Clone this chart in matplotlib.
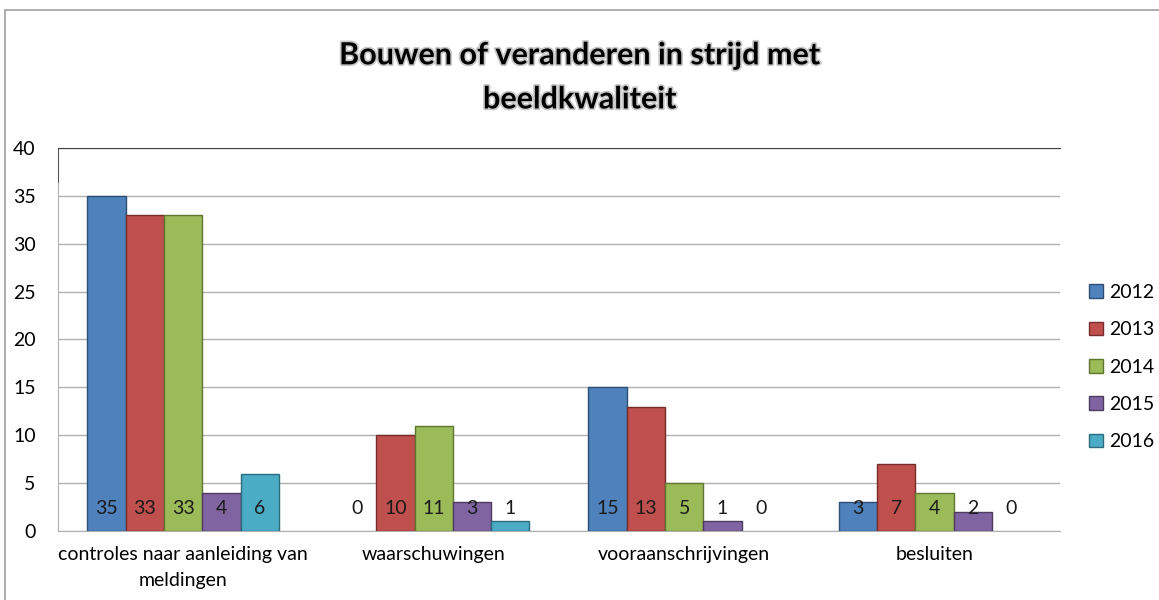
import matplotlib.pyplot as plt
import matplotlib.patheffects as pe
from matplotlib.patches import Rectangle
import numpy as np

# data
categories = ['controles naar aanleiding van\nmeldingen', 'waarschuwingen',
              'vooraanschrijvingen', 'besluiten']
years = ['2012', '2013', '2014', '2015', '2016']
values = {
    '2012': [35, 0, 15, 3],
    '2013': [33, 10, 13, 7],
    '2014': [33, 11, 5, 4],
    '2015': [4, 3, 1, 2],
    '2016': [6, 1, 0, 0],
}
colors = ['#4F81BD', '#C0504D', '#9BBB59', '#8064A2', '#4BACC6']
edges = ['#2c4d75', '#772c2a', '#5f7530', '#4d3b62', '#2c6b7b']

plt.rcParams['font.family'] = ['Lato', 'DejaVu Sans']

fig = plt.figure(figsize=(11.59, 6), dpi=100)
ax = fig.add_axes([0.050, 0.115, 0.8645, 0.6384])

# outer chart border
fig.patches.append(Rectangle((0.0045, -0.05), 1.2, 1.033, transform=fig.transFigure,
                             fill=False, edgecolor='#a0a0a0', linewidth=1.2))

x = np.arange(len(categories))
w = 0.153
for i, y in enumerate(years):
    pos = x + (i - 2) * w
    ec = [edges[i] if v > 0 else 'none' for v in values[y]]
    ax.bar(pos, values[y], width=w, color=colors[i], edgecolor=ec,
           linewidth=1.0, zorder=3)
    for p, v in zip(pos, values[y]):
        ax.text(p, 2.3, str(v), ha='center', va='center', fontsize=14,
                color='#1a1a1a', zorder=4)

ax.set_xlim(-0.5, 3.5)
ax.set_ylim(0, 40)
ax.set_yticks(range(0, 41, 5))
ax.set_xticks(x)
ax.set_xticklabels(categories, fontsize=14, linespacing=1.6)
ax.tick_params(axis='x', length=0, pad=11)
ax.tick_params(axis='y', length=0, labelsize=14, pad=16)
ax.grid(axis='y', color='#b0b0b0', linewidth=1.0, zorder=0)
ax.spines['right'].set_visible(False)
ax.spines['top'].set_color('#404040')
ax.spines['left'].set_color('#b0b0b0')
ax.spines['bottom'].set_color('#b0b0b0')
ax.axvline(-0.5, ymin=0.91, ymax=1.0, color='#404040', linewidth=1.2, zorder=5)

handles = [Rectangle((0, 0), 1, 1, facecolor=colors[i], edgecolor=edges[i])
           for i in range(len(years))]
fig.legend(handles, years, loc='upper left', bbox_to_anchor=(0.940, 0.527),
           frameon=False, fontsize=14, handlelength=0.7, handleheight=0.7,
           handletextpad=0.3, labelspacing=1.05, borderpad=0, borderaxespad=0)

fig.text(0.5, 0.871, 'Bouwen of veranderen in strijd met\nbeeldkwaliteit',
         ha='center', va='center', fontsize=22, fontweight='bold',
         linespacing=1.7,
         path_effects=[pe.withStroke(linewidth=2.5, foreground='#c8c8c8')])

fig.savefig('out.png', dpi=100, facecolor='white')
